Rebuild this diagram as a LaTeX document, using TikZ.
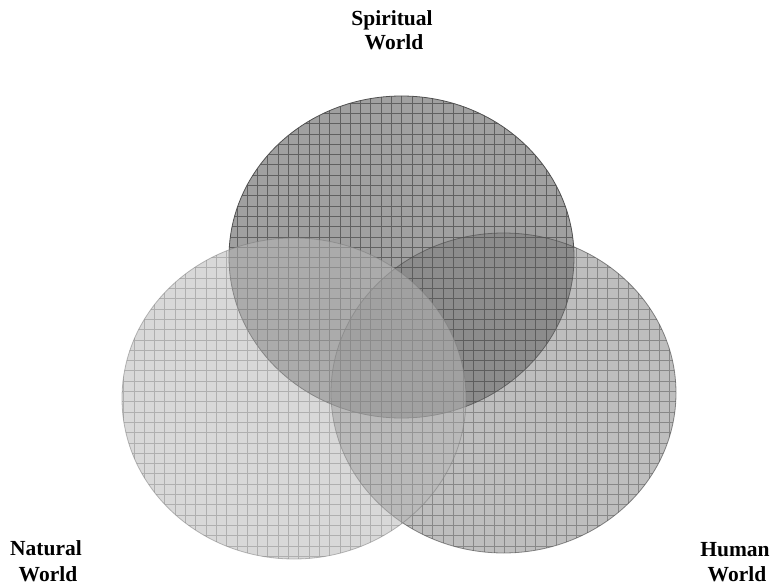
\documentclass[tikz,border=0pt]{standalone}
\usepackage{fontspec}
\setmainfont{Liberation Serif}
\definecolor{spfill}{RGB}{160,160,160}
\definecolor{spline}{RGB}{96,96,96}
\definecolor{spedge}{RGB}{80,80,80}
\definecolor{hufill}{RGB}{119,119,119}
\definecolor{huline}{RGB}{79,79,79}
\definecolor{huedge}{RGB}{70,70,70}
\definecolor{nafill}{RGB}{181,181,181}
\definecolor{naline}{RGB}{140,140,140}
\definecolor{naedge}{RGB}{120,120,120}
\tikzset{
  lbl/.style={font=\bfseries\fontsize{21.5}{25}\selectfont, anchor=base, inner sep=0pt},
  gridlines/.style={step=10.3pt, line width=0.7pt}
}
\begin{document}
\begin{tikzpicture}[x=1pt,y=-1pt]
\useasboundingbox (0,0) rectangle (778,585);
% Spiritual World
\begin{scope}
  \clip (401.5,257) ellipse [x radius=172.5, y radius=161];
  \fill[spfill] (220,90) rectangle (580,425);
  \draw[spline, gridlines] (220,90) grid (580,425);
\end{scope}
\draw[spedge, line width=0.8pt] (401.5,257) ellipse [x radius=172.5, y radius=161];
% Human World
\begin{scope}
  \clip (503.5,393) ellipse [x radius=172.5, y radius=160];
  \fill[hufill, fill opacity=0.48] (325,225) rectangle (685,560);
  \draw[huline, gridlines, draw opacity=0.48] (325,225) grid (685,560);
\end{scope}
\draw[huedge, line width=0.8pt, draw opacity=0.6] (503.5,393) ellipse [x radius=172.5, y radius=160];
% Natural World
\begin{scope}
  \clip (294,398.5) ellipse [x radius=172, y radius=160.5];
  \fill[nafill, fill opacity=0.53] (115,230) rectangle (475,565);
  \draw[naline, gridlines, draw opacity=0.53] (115,230) grid (475,565);
\end{scope}
\draw[naedge, line width=0.8pt, draw opacity=0.5] (294,398.5) ellipse [x radius=172, y radius=160.5];
% Labels
\node[lbl] (sp1) at (392,26) {Spiritual};
\node[lbl] (sp2) at (394,50) {World};
\node[lbl] (na1) at (46,555) {Natural};
\node[lbl] (na2) at (48,581) {World};
\node[lbl] (hu1) at (735,556) {Human};
\node[lbl] (hu2) at (737,581) {World};
\end{tikzpicture}
\end{document}
